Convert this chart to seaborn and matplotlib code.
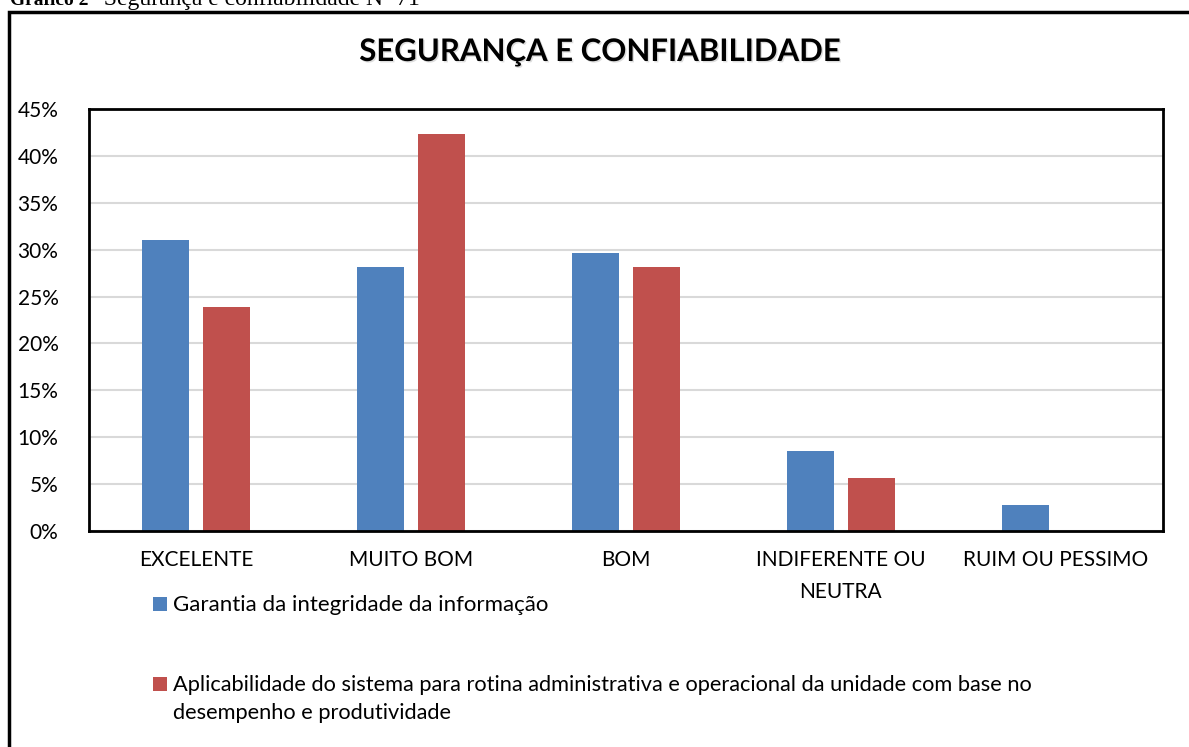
import matplotlib
matplotlib.use("Agg")
import matplotlib.pyplot as plt
from matplotlib.patches import Rectangle
import matplotlib.patheffects as pe
import seaborn as sns
import pandas as pd

categories = ["EXCELENTE", "MUITO BOM", "BOM", "INDIFERENTE OU\nNEUTRA", "RUIM OU PESSIMO"]
series_names = ["Garantia da integridade da informação",
                "Aplicabilidade do sistema para rotina administrativa e operacional da unidade com base no\ndesempenho e produtividade"]
garantia = [0.310, 0.282, 0.296, 0.085, 0.028]
aplicabilidade = [0.239, 0.423, 0.282, 0.056, 0.0]
colors = ["#4F81BD", "#C0504D"]
yticks = [0, 0.05, 0.10, 0.15, 0.20, 0.25, 0.30, 0.35, 0.40, 0.45]
ytick_labels = ["0%", "5%", "10%", "15%", "20%", "25%", "30%", "35%", "40%", "45%"]

df = pd.DataFrame({
    "cat": categories * 2,
    "serie": [series_names[0]] * 5 + [series_names[1]] * 5,
    "val": garantia + aplicabilidade,
})

sns.set_theme(style="white")
plt.rcParams["font.family"] = ["Lato", "DejaVu Sans"]

W, H = 1189, 747
fig = plt.figure(figsize=(W / 100, H / 100), dpi=100)
ax = fig.add_axes([89 / W, 1 - 531 / H, (1163 - 89) / W, (531 - 109) / H])

sns.barplot(data=df, x="cat", y="val", hue="serie", palette=colors,
            width=0.568, gap=0.23, ax=ax, legend=False, saturation=1,
            edgecolor="none")

ax.set_ylim(0, 0.45)
ax.set_xlim(-0.5, 4.5)
ax.set_yticks(yticks)
ax.set_yticklabels(ytick_labels)
ax.yaxis.grid(True, color="#d9d9d9", linewidth=1.5)
ax.set_axisbelow(True)
ax.set_xlabel("")
ax.set_ylabel("")
for s in ax.spines.values():
    s.set_visible(True)
    s.set_color("black")
    s.set_linewidth(2)
ax.tick_params(axis="y", length=0, pad=22, labelsize=15, labelcolor="black")
ax.tick_params(axis="x", length=0, pad=14, labelsize=15, labelcolor="black")
for lab in ax.get_xticklabels():
    lab.set_linespacing(1.7)
    lab.set_ha("center")

# title
fig.text(600 / W, 1 - 52 / H, "SEGURANÇA E CONFIABILIDADE", ha="center", va="center",
         fontsize=22.4, fontweight="bold", color="black",
         path_effects=[pe.withSimplePatchShadow(offset=(1.0, -1.0), shadow_rgbFace="#aaaaaa", alpha=0.4)])

# header caption (partially cut off at top, as in the reference)
fig.text(10 / W, 1 - 5 / H, "Gráfico 2", ha="left", va="baseline",
         fontsize=14, fontweight="bold", family=["Liberation Serif"], color="black")
fig.text(86 / W, 1 - 5 / H, "– Segurança e confiabilidade N=71", ha="left", va="baseline",
         fontsize=17, family=["Liberation Serif"], color="black")

# outer frame
fig.add_artist(Rectangle((9 / W, -0.05), 1.1, 1 - 12 / H + 0.05, transform=fig.transFigure,
                         fill=False, edgecolor="black", linewidth=2.5))

# legend (manual)
sq = 14
fig.add_artist(Rectangle((153 / W, 1 - 611 / H), sq / W, sq / H, transform=fig.transFigure,
                         facecolor=colors[0], edgecolor="none"))
fig.text(173 / W, 1 - 605 / H, series_names[0], ha="left", va="center", fontsize=16, color="black")
fig.add_artist(Rectangle((153 / W, 1 - 691 / H), sq / W, sq / H, transform=fig.transFigure,
                         facecolor=colors[1], edgecolor="none"))
fig.text(173 / W, 1 - 675 / H, series_names[1], ha="left", va="top", fontsize=15.7,
         color="black", linespacing=1.5)

fig.savefig("out.png", dpi=100)
